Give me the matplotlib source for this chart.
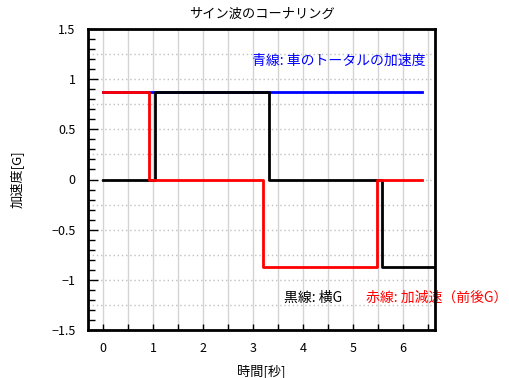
import numpy as np
import matplotlib
matplotlib.use('Agg')
import matplotlib.pyplot as plt
from matplotlib.ticker import MultipleLocator

plt.rcParams['font.family'] = ['Noto Sans CJK JP', 'DejaVu Sans']

# data
t_total = [0, 6.37]
g_total = [0.87, 0.87]
t_lat = [0, 1.03, 3.31, 5.57, 6.6]
g_lat = [0, 0.87, 0, -0.87, -0.87]
t_lon = [0, 0.92, 3.19, 5.48, 6.37]
g_lon = [0.87, 0, -0.87, 0, 0]

fig = plt.figure(figsize=(5.1, 3.78), dpi=100)
ax = fig.add_axes([88/510, 1 - 330/378, (435 - 88)/510, (330 - 29)/378])

ax.set_xlim(-0.3, 6.64)
ax.set_ylim(-1.5, 1.5)

# grid
for x in np.arange(0, 6.6, 0.5):
    ax.axvline(x, color='#d4d4d4', lw=1, zorder=0)
for y in np.arange(-1.25, 1.5, 0.25):
    ax.axhline(y, color='#c0c0c0', lw=1, ls=(0, (1, 2)), zorder=0)

ax.plot(t_total, g_total, color='#0000ff', lw=2, drawstyle='steps-post')
ax.plot(t_lat, g_lat, color='black', lw=2, drawstyle='steps-post')
ax.plot(t_lon, g_lon, color='#ff0000', lw=2, drawstyle='steps-post')

ax.xaxis.set_major_locator(MultipleLocator(1))
ax.xaxis.set_minor_locator(MultipleLocator(0.5))
ax.yaxis.set_major_locator(MultipleLocator(0.5))
ax.yaxis.set_minor_locator(MultipleLocator(0.1))
ax.tick_params(axis='x', which='both', direction='in', length=4, width=1, pad=9, labelsize=9)
ax.tick_params(axis='y', which='major', direction='in', length=7, width=1, pad=9, labelsize=9)
ax.tick_params(axis='y', which='minor', direction='in', length=5, width=1)
ax.set_yticks([-1.5, -1, -0.5, 0, 0.5, 1, 1.5])
ax.set_yticklabels(['\u22121.5', '\u22121', '\u22120.5', '0', '0.5', '1', '1.5'])

for s in ax.spines.values():
    s.set_linewidth(2)

ax.set_title('サイン波のコーナリング', fontsize=9.5, pad=8)
ax.set_xlabel('時間[秒]', fontsize=9.5, labelpad=6)
ax.set_ylabel('加速度[G]', fontsize=9.5, labelpad=20)

ax.text(2.97, 1.18, '青線: 車のトータルの加速度', color='#0000ff', fontsize=10, va='center')
ax.text(3.61, -1.18, '黒線: 横G', color='black', fontsize=10, va='center')
ax.text(5.26, -1.18, '赤線: 加減速（前後G）', color='#ff0000', fontsize=10, va='center',
        clip_on=False, zorder=2)

fig.savefig('out.png', dpi=100)
